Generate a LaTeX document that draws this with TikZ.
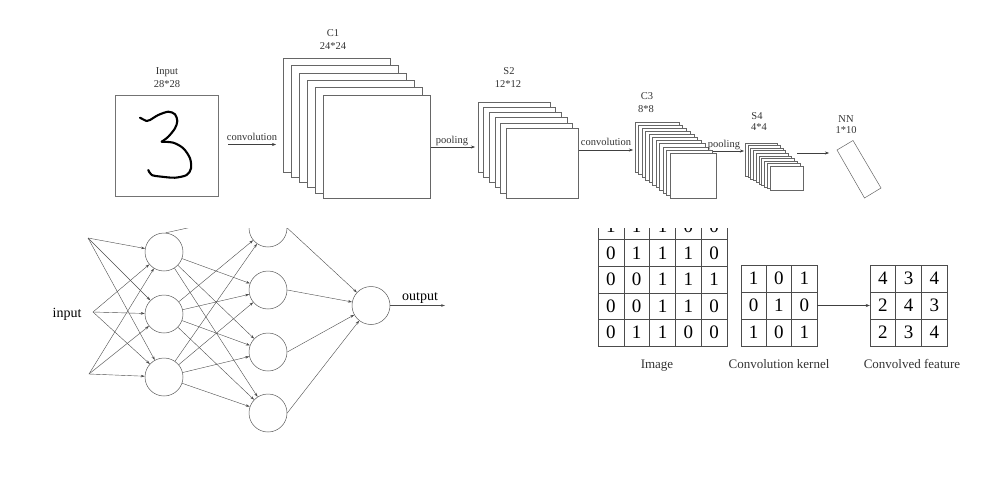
\documentclass[tikz,border=0pt]{standalone}
\usepackage{fontspec}
\setmainfont{Liberation Serif}
\usetikzlibrary{positioning,arrows.meta}

\begin{document}
\begin{tikzpicture}[x=1pt, y=-1pt,
    layer/.style={draw=black!60, fill=white, line width=0.5pt},
    arrow/.style={-{Stealth[length=4pt,width=3pt]}, line width=0.45pt, black!75},
    link/.style={-{Stealth[length=4pt,width=2.6pt]}, line width=0.4pt, black!70},
    lbl/.style={font=\fontsize{10.5}{12.5}\selectfont, text=black!80, inner sep=0pt, anchor=base},
    neuron/.style={circle, draw=black!65, line width=0.5pt, minimum size=38pt, inner sep=0pt},
    cell/.style={draw=black!70, line width=0.5pt, inner sep=0pt, font=\fontsize{19}{19}\selectfont},
    caption/.style={font=\fontsize{13}{13}\selectfont, text=black!80, inner sep=0pt, anchor=base}
  ]
  \useasboundingbox (0,0) rectangle (1000,500);

  % input image
  \node[draw=black!55, line width=0.6pt, minimum width=103pt, minimum height=101pt, inner sep=0pt] (input) at (166.5,145.5) {};
  \draw[line width=2.1pt, line cap=round, line join=round] plot[smooth] coordinates {(140,117.7) (146.7,121) (150,120) (158.3,115) (168.3,111.7) (175,114.3) (177.3,121) (175,128.3) (168.3,136.7) (161.7,141.7)};
  \draw[line width=2.1pt, line cap=round, line join=round] plot[smooth] coordinates {(161.7,141.7) (173.3,142.7) (183.3,148.3) (190,158.3) (191,168.3) (186.7,175) (175,177.7) (161.7,176.7) (151.7,175) (148.3,170)};
  \node[lbl] (inname) at (167,75) {Input};
  \node[lbl] (insize) at (167,88) {28*28};

  % feature maps
  \foreach \i in {0,...,5}
    \draw[layer] ({283+8*\i},{58+7.4*\i}) rectangle ({390+8*\i},{172+5.2*\i});
  \node[lbl] (c1name) at (333,37) {C1};
  \node[lbl] (c1size) at (333,50) {24*24};

  \foreach \i in {0,...,5}
    \draw[layer] ({478+5.6*\i},{102+5.2*\i}) rectangle ({550+5.6*\i},{172+5.2*\i});
  \node[lbl] (s2name) at (509,75) {S2};
  \node[lbl] (s2size) at (508,88) {12*12};

  \foreach \i in {0,...,10}
    \draw[layer] ({635+3.5*\i},{122+3.1*\i}) rectangle ({679+3.7*\i},{172+2.6*\i});
  \node[lbl] (c3name) at (647,100) {C3};
  \node[lbl] (c3size) at (646,112.5) {8*8};

  \foreach \i in {0,...,9}
    \draw[layer] ({745+2.78*\i},{143+2.56*\i}) rectangle ({777+2.89*\i},{176+1.55*\i});
  \node[lbl] (s4name) at (757,119.5) {S4};
  \node[lbl] (s4size) at (759,131) {4*4};

  \draw[layer] (837,150) -- (853,140.5) -- (881,188) -- (864.5,198) -- cycle;
  \node[lbl] (nnname) at (846,122) {NN};
  \node[lbl] (nnsize) at (846,133) {1*10};

  % connectors between stages
  \coordinate (conv1s) at (228,144.5);
  \coordinate (conv1e) at (276,144.5);
  \coordinate (pool1s) at (430.5,147);
  \coordinate (pool1e) at (475,147);
  \coordinate (conv2s) at (578.5,150);
  \coordinate (conv2e) at (633,150);
  \coordinate (pool2s) at (713,151);
  \coordinate (pool2e) at (744,151);
  \coordinate (nns) at (797,153);
  \coordinate (nne) at (829,153);
  \draw[arrow] (conv1s) -- (conv1e);
  \draw[arrow] (pool1s) -- (pool1e);
  \draw[arrow] (conv2s) -- (conv2e);
  \draw[arrow] (pool2s) -- (pool2e);
  \draw[arrow] (nns) -- (nne);
  \node[lbl] (conv1lbl) at (252,140) {convolution};
  \node[lbl] (pool1lbl) at (452,143.5) {pooling};
  \node[lbl] (conv2lbl) at (606,145.5) {convolution};
  \node[lbl] (pool2lbl) at (724,147) {pooling};

  \begin{scope}
    \clip (0,228) rectangle (1000,500);

    % neural network
    \coordinate (x1) at (88,238);
    \coordinate (x2) at (93,312);
    \coordinate (x3) at (89,374);
    \node[neuron] (h11) at (164,252) {};
    \node[neuron] (h12) at (164,314) {};
    \node[neuron] (h13) at (164,377) {};
    \node[neuron] (h21) at (268,228) {};
    \node[neuron] (h22) at (268,290) {};
    \node[neuron] (h23) at (268,352) {};
    \node[neuron] (h24) at (268,413) {};
    \node[neuron] (out) at (371,305.5) {};
    \coordinate (h1up) at (260,212);
    \coordinate (outend) at (445,305.5);

    \foreach \a in {1,2,3}
      \foreach \b in {1,2,3}
        \draw[link] (x\a) -- (h1\b);
    \foreach \a in {1,2,3}
      \foreach \b in {2,3,4}
        \draw[link] (h1\a) -- (h2\b);
    \draw[link] (h12) -- (h21);
    \draw[link] (h13) -- (h21);
    \draw[line width=0.4pt, black!70] (h11.85) -- (h1up);
    \foreach \b in {1,...,4}
      \draw[link] (h2\b.east) -- (out);
    \draw[link] (out.east) -- (outend);
    \node[font=\fontsize{14}{14}\selectfont, inner sep=0pt, anchor=base] (inlbl) at (67,317.5) {input};
    \node[font=\fontsize{14}{14}\selectfont, inner sep=0pt, anchor=base] (outlbl) at (420,300.5) {output};

    % convolution example
    \foreach \row [count=\r] in {{1,1,1,0,0},{0,1,1,1,0},{0,0,1,1,1},{0,0,1,1,0},{0,1,1,0,0}}
      \foreach \v [count=\c] in \row
        \node[cell, minimum width=25.8pt, minimum height=26.6pt] (img-\r-\c) at ({598+25.8*(\c-0.5)},{213+26.6*(\r-0.5)}) {\v};
    \foreach \row [count=\r] in {{1,0,1},{0,1,0},{1,0,1}}
      \foreach \v [count=\c] in \row
        \node[cell, minimum width=25.3pt, minimum height=27pt] (ker-\r-\c) at ({741+25.3*(\c-0.5)},{265+27*(\r-0.5)}) {\v};
    \foreach \row [count=\r] in {{4,3,4},{2,4,3},{2,3,4}}
      \foreach \v [count=\c] in \row
        \node[cell, minimum width=25.7pt, minimum height=27pt] (feat-\r-\c) at ({870+25.7*(\c-0.5)},{265+27*(\r-0.5)}) {\v};
    \draw[arrow] (ker-2-3.east) -- (feat-2-1.west);
    \node[caption] (imgcap) at (657,368.5) {Image};
    \node[caption] (kercap) at (779,368.5) {Convolution kernel};
    \node[caption] (featcap) at (912,368.5) {Convolved feature};
  \end{scope}
\end{tikzpicture}
\end{document}
